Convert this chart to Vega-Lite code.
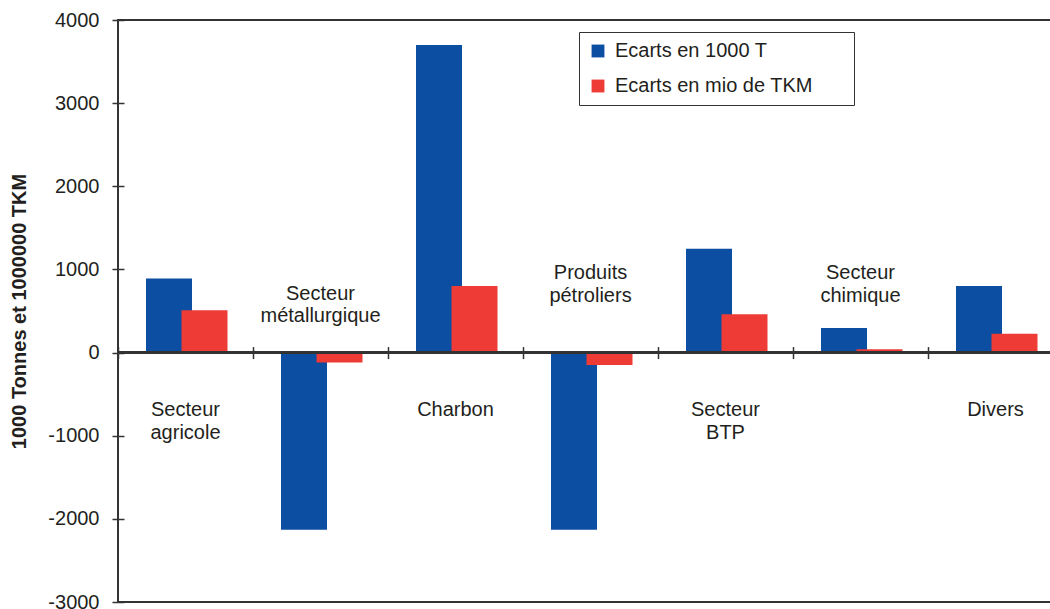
{
  "$schema": "https://vega.github.io/schema/vega-lite/v6.json",
  "width": 933,
  "height": 582,
  "autosize": {"type": "none"},
  "padding": {"left": 118, "top": 20, "right": 0, "bottom": 7},
  "background": "white",
  "config": {
    "font": "Liberation Sans",
    "view": {"stroke": "#333333", "strokeWidth": 2},
    "axis": {"grid": false}
  },
  "data": {
    "values": [
      {"cat": "Secteur agricole", "t": 890, "tkm": 510},
      {"cat": "Secteur métallurgique", "t": -2130, "tkm": -120},
      {"cat": "Charbon", "t": 3700, "tkm": 800},
      {"cat": "Produits pétroliers", "t": -2130, "tkm": -150},
      {"cat": "Secteur BTP", "t": 1250, "tkm": 460},
      {"cat": "Secteur chimique", "t": 295, "tkm": 40},
      {"cat": "Divers", "t": 800, "tkm": 225}
    ]
  },
  "layer": [
    {
      "mark": {"type": "bar", "width": 46, "xOffset": -16.5},
      "encoding": {
        "x": {
          "field": "cat",
          "type": "nominal",
          "sort": null,
          "scale": {
            "domain": ["Secteur agricole", "Secteur métallurgique", "Charbon", "Produits pétroliers", "Secteur BTP", "Secteur chimique", "Divers"],
            "range": [0, 945],
            "paddingInner": 0,
            "paddingOuter": 0
          },
          "axis": {
            "orient": "bottom",
            "offset": -255.4,
            "tickBand": "extent",
            "labels": false,
            "domain": false,
            "title": null,
            "tickSize": 12,
            "tickColor": "#333333",
            "tickWidth": 1.5
          }
        },
        "y": {
          "field": "t",
          "type": "quantitative",
          "scale": {"domain": [-3000, 4000], "nice": false},
          "axis": {
            "title": "1000 Tonnes et 1000000 TKM",
            "titleFontSize": 20,
            "titleFontWeight": "bold",
            "titleColor": "#231f20",
            "titlePadding": 18,
            "values": [-3000, -2000, -1000, 0, 1000, 2000, 3000, 4000],
            "labelExpr": "'' + datum.value",
            "domain": false,
            "tickSize": 12,
            "offset": -6,
            "tickColor": "#333333",
            "tickWidth": 1.5,
            "labelFontSize": 20,
            "labelColor": "#231f20",
            "labelPadding": 13,
            "labelOverlap": false
          }
        },
        "color": {
          "datum": "Ecarts en 1000 T",
          "type": "nominal",
          "scale": {"domain": ["Ecarts en 1000 T", "Ecarts en mio de TKM"], "range": ["#0b4ea2", "#ee3b35"]},
          "legend": {
            "title": "WWW",
            "titleOrient": "right",
            "titleOpacity": 0,
            "titleFontSize": 10,
            "titlePadding": 3,
            "orient": "none",
            "legendX": 461,
            "legendY": 12,
            "strokeColor": "#333333",
            "padding": 9,
            "symbolType": "square",
            "symbolSize": 165,
            "symbolStrokeWidth": 0,
            "symbolOpacity": 1,
            "labelFontSize": 20,
            "labelColor": "#231f20",
            "labelOffset": 7,
            "labelLimit": 500,
            "rowPadding": 15
          }
        }
      }
    },
    {
      "mark": {"type": "bar", "width": 46, "xOffset": 19},
      "encoding": {
        "x": {"field": "cat", "type": "nominal", "sort": null},
        "y": {"field": "tkm", "type": "quantitative", "title": "1000 Tonnes et 1000000 TKM"},
        "color": {"datum": "Ecarts en mio de TKM", "type": "nominal"}
      }
    },
    {
      "mark": {"type": "rule", "color": "#333333", "strokeWidth": 2},
      "encoding": {"y": {"datum": 0, "type": "quantitative"}}
    },
    {
      "transform": [{"filter": {"field": "cat", "oneOf": ["Secteur agricole", "Charbon", "Secteur BTP", "Divers"]}}],
      "mark": {"type": "text", "fontSize": 20, "lineBreak": " ", "lineHeight": 22.5, "baseline": "alphabetic", "align": "center", "color": "#231f20"},
      "encoding": {"x": {"field": "cat", "type": "nominal", "sort": null}, "y": {"datum": -763, "type": "quantitative"}, "text": {"field": "cat"}}
    },
    {
      "transform": [{"filter": {"field": "cat", "oneOf": ["Secteur métallurgique"]}}],
      "mark": {"type": "text", "fontSize": 20, "lineBreak": " ", "lineHeight": 22.5, "baseline": "alphabetic", "align": "center", "color": "#231f20"},
      "encoding": {"x": {"field": "cat", "type": "nominal", "sort": null}, "y": {"datum": 633, "type": "quantitative"}, "text": {"field": "cat"}}
    },
    {
      "transform": [{"filter": {"field": "cat", "oneOf": ["Produits pétroliers", "Secteur chimique"]}}],
      "mark": {"type": "text", "fontSize": 20, "lineBreak": " ", "lineHeight": 22.5, "baseline": "alphabetic", "align": "center", "color": "#231f20"},
      "encoding": {"x": {"field": "cat", "type": "nominal", "sort": null}, "y": {"datum": 879, "type": "quantitative"}, "text": {"field": "cat"}}
    }
  ]
}
